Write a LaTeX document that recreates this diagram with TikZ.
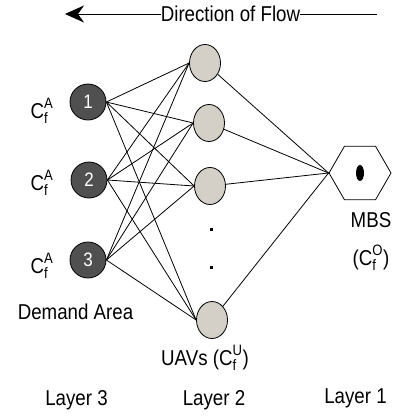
\documentclass[tikz,border=0pt]{standalone}
\usepackage{fontspec}
\setmainfont{Liberation Sans}[FakeStretch=0.87]
\usepackage{amsmath}
\usetikzlibrary{shapes.geometric,arrows.meta}

\definecolor{areagray}{RGB}{80,80,80}
\definecolor{uavgray}{RGB}{212,208,200}

\tikzset{
  demand/.style={circle, draw=black, line width=0.8pt, fill=areagray, minimum size=36pt, inner sep=0pt, text=white, font=\fontsize{19.5}{22}\selectfont},
  uav/.style={ellipse, draw=black, line width=0.8pt, fill=uavgray, minimum width=31pt, minimum height=37pt, inner sep=0pt},
  link/.style={line width=0.8pt},
  lbl/.style={inner sep=0pt, font=\fontsize{21.5}{24}\selectfont},
  gapdot/.style={rectangle, fill=black, minimum size=3pt, inner sep=0pt}
}

\begin{document}
\begin{tikzpicture}[x=1pt,y=-1pt]

% Fix the page size
\useasboundingbox (0,0) rectangle (398,420);

% Direction of flow
\node[lbl] (flow) at (230.5,14) {Direction of Flow};
\coordinate (flowleft) at (65,14);
\coordinate (flowright) at (377,14);
\draw[link,-{Stealth[length=19pt,width=17pt,inset=6pt]}] (flow.west) -- (flowleft);
\draw[link] (flow.east) -- (flowright);

% Layer 3: demand areas
\node[demand] (d1) at (88,102) {1};
\node[demand] (d2) at (89,180) {2};
\node[demand] (d3) at (88,260) {3};
\node[lbl] (c1) at (42,111) {$\text{C}^{\text{A}}_{\text{f}}$};
\node[lbl] (c2) at (42,183) {$\text{C}^{\text{A}}_{\text{f}}$};
\node[lbl] (c3) at (42,266) {$\text{C}^{\text{A}}_{\text{f}}$};
\node[lbl] (area) at (75.5,312) {Demand Area};

% Layer 2: UAVs
\node[uav] (u1) at (205,63) {};
\node[uav] (u2) at (209,123) {};
\node[uav] (u3) at (210,186) {};
\node[uav] (u4) at (212,320) {};
\node[gapdot] (g1) at (211,229) {};
\node[gapdot] (g2) at (211,267) {};
\node[lbl] (uavs) at (205,358) {UAVs ($\text{C}^{\text{U}}_{\text{f}}$)};

% Layer 1: MBS
\node[regular polygon, regular polygon sides=6, draw=black, line width=0.8pt, minimum size=62pt, inner sep=0pt] (mbs) at (360,173) {};
\node[ellipse, fill=black, minimum width=8pt, minimum height=16pt, inner sep=0pt] (mbsdot) at (mbs.center) {};
\node[lbl] (mbsname) at (371,220) {MBS};
\node[lbl] (mbscost) at (371,258) {($\text{C}^{\text{O}}_{\text{f}}$)};

% Links between the layers
\foreach \a in {1,2,3}
  \foreach \u in {1,2,3,4}
    \draw[link] (d\a.east) -- (u\u.west);
\foreach \u in {1,2,3,4}
  \draw[link] (u\u) -- (mbs.west);

% Layer names
\node[lbl] (layer3) at (76.5,400) {Layer 3};
\node[lbl] (layer2) at (214,400) {Layer 2};
\node[lbl] (layer1) at (355.5,398) {Layer 1};

\end{tikzpicture}
\end{document}
